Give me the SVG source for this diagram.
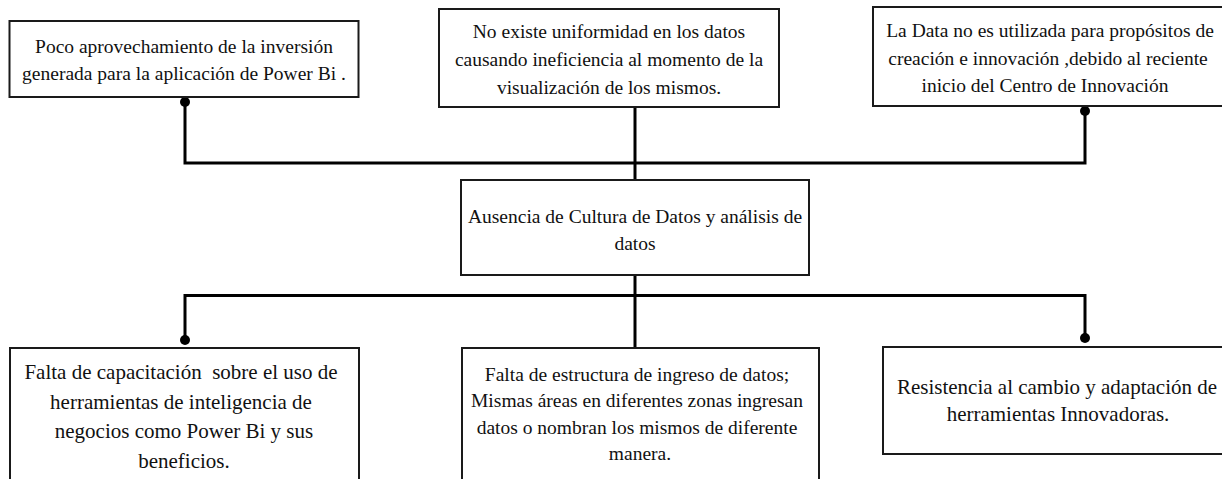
<svg xmlns="http://www.w3.org/2000/svg" width="1222" height="479" viewBox="0 0 1222 479">
<style>
.box{fill:#fff;stroke:#1a1a1a;stroke-width:2}
.t{font-family:"Liberation Serif","Times New Roman",serif;font-size:19.5px;fill:#111;text-anchor:middle;white-space:pre}
.tl{font-size:21px}
.ln{fill:none;stroke:#000;stroke-width:3}
.dot{fill:#000}
</style>
<rect width="1222" height="479" fill="#fff"/>
<g id="connectors">
<polyline class="ln" points="185,102 185,163 1085,163 1085,111"/>
<line class="ln" x1="635" y1="107" x2="635" y2="180"/>
<line class="ln" x1="635" y1="275" x2="635" y2="348"/>
<polyline class="ln" points="185,340 185,295.5 1085,295.5 1085,338"/>
<circle class="dot" cx="185" cy="102" r="5"/>
<circle class="dot" cx="1085" cy="111" r="5"/>
<circle class="dot" cx="185" cy="340" r="5"/>
<circle class="dot" cx="1085" cy="338" r="5"/>
</g>
<g id="node-top-left">
<rect class="box" x="9.5" y="21" width="349" height="76"/>
<text class="t" x="184" y="53">Poco aprovechamiento de la inversión</text>
<text class="t" x="184" y="80">generada para la aplicación de Power Bi .</text>
</g>
<g id="node-top-middle">
<rect class="box" x="439" y="9" width="340" height="98"/>
<text class="t" x="609" y="38">No existe uniformidad en los datos</text>
<text class="t" x="609" y="66">causando ineficiencia al momento de la</text>
<text class="t" x="609" y="94">visualización de los mismos.</text>
</g>
<g id="node-top-right">
<rect class="box" x="873" y="7" width="360" height="99"/>
<text class="t" x="1050" y="37">La Data no es utilizada para propósitos de</text>
<text class="t" x="1048" y="65">creación e innovación ,debido al reciente</text>
<text class="t" x="1045" y="92">inicio del Centro de Innovación</text>
</g>
<g id="node-center">
<rect class="box" x="461" y="180" width="348" height="95"/>
<text class="t" x="635" y="223">Ausencia de Cultura de Datos y análisis de</text>
<text class="t" x="635" y="250">datos</text>
</g>
<g id="node-bottom-left">
<rect class="box" x="10" y="348" width="349" height="140"/>
<text class="t tl" x="181" y="379">Falta de capacitación  sobre el uso de</text>
<text class="t tl" x="181" y="408.5">herramientas de inteligencia de</text>
<text class="t tl" x="184" y="438">negocios como Power Bi y sus</text>
<text class="t tl" x="184" y="467.5">beneficios.</text>
</g>
<g id="node-bottom-middle">
<rect class="box" x="462" y="348" width="357" height="140"/>
<text class="t" x="637" y="381">Falta de estructura de ingreso de datos;</text>
<text class="t" x="637" y="407">Mismas áreas en diferentes zonas ingresan</text>
<text class="t" x="637" y="434">datos o nombran los mismos de diferente</text>
<text class="t" x="640" y="460">manera.</text>
</g>
<g id="node-bottom-right">
<rect class="box" x="883" y="347" width="350" height="107"/>
<text class="t tl" x="1057" y="394">Resistencia al cambio y adaptación de</text>
<text class="t tl" x="1058" y="421">herramientas Innovadoras.</text>
</g>
</svg>
